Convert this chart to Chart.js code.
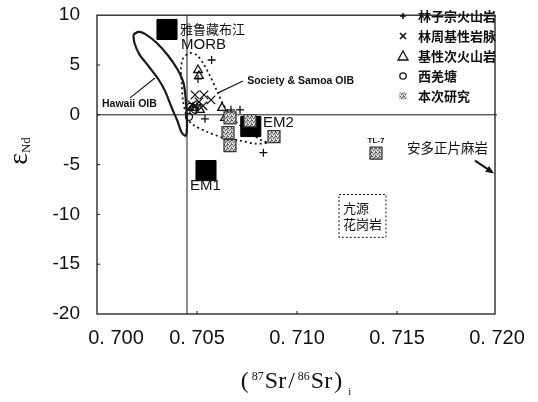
<!DOCTYPE html>
<html>
<head>
<meta charset="utf-8">
<script src="https://cdn.jsdelivr.net/npm/chart.js@4/dist/chart.umd.min.js"></script>
<style>
  html, body { margin: 0; padding: 0; background: #fff; }
  #wrap { width: 538px; height: 402px; }
</style>
</head>
<body>
<div id="wrap"><canvas id="c" width="538" height="402"></canvas></div>
<script>
// ---- axis ticks ----
const xTickValues = [0.700, 0.705, 0.710, 0.715, 0.720];
const yTickValues = [10, 5, 0, -5, -10, -15, -20];

// ---- sample groups: [87Sr/86Sr, eNd] ----
const linzizongVolcanics = [[0.70573, 5.5], [0.7054, -0.4], [0.70832, -3.8], [0.7067, 0.5], [0.70715, 0.5],
                            [0.70505, 3.6], [0.7048, 0.8], [0.7050, 1.0], [0.70465, 0.5]];
const linzhouDykes = [[0.7049, 2.0], [0.70535, 2.0], [0.7057, 1.5], [0.7051, 1.3], [0.70475, 1.0], [0.7053, 0.9]];
const subvolcanics = [[0.70505, 4.5], [0.7051, 3.9], [0.70625, 0.7], [0.7064, -0.3], [0.7048, 0.7], [0.70515, 0.5]];
const xiqiangtang = [[0.7046, -0.2], [0.70465, 0.8], [0.7049, 0.5]];
const thisStudy = [[0.70665, -0.3], [0.70765, -0.6], [0.70655, -1.8], [0.70665, -3.1], [0.70885, -2.2], [0.71395, -3.85]];
const endMembers = [[0.7035, 8.57], [0.70545, -5.6], [0.70769, -1.18]];

// ---- fields ----
const hawaiiOIB = [[0.70182, 8.07], [0.70207, 8.33], [0.7024, 8.13], [0.70298, 7.23], [0.70357, 5.9], [0.70402, 4.57],
                   [0.70432, 3.23], [0.70443, 1.73], [0.70448, 0.07], [0.7045, -1.27], [0.70443, -2.1], [0.70423, -1.77],
                   [0.70402, -0.6], [0.70373, 0.73], [0.7034, 2.4], [0.70307, 3.57], [0.70257, 4.9], [0.70212, 6.07],
                   [0.70187, 7.23], [0.70182, 8.07]];
const societySamoaOIB = [[0.7045, -0.4], [0.7043, 1.4], [0.70423, 3.4], [0.7042, 4.73], [0.70432, 5.73], [0.70465, 6.2],
                         [0.70498, 6.0], [0.7053, 5.2], [0.70565, 3.9], [0.706, 2.4], [0.70635, 0.9], [0.7069, -0.6],
                         [0.70765, -1.8], [0.70825, -2.6], [0.70855, -2.8], [0.7079, -2.9], [0.70715, -2.6],
                         [0.7063, -2.3], [0.7055, -1.7], [0.7048, -1.0], [0.7045, -0.4]];

// ---- reference lines ----
const bulkEarthSr = [[0.7045, -20], [0.7045, 10]];
const churNd = [[0.700, 0], [0.720, 0]];
const hawaiiLeader = [[0.70165, 1.7], [0.7029, 3.7]];
const societyLeader = [[0.7073, 3.4], [0.70605, 2.2]];

// ---- text labels ----
const legendLabels = ['林子宗火山岩', '林周基性岩脉', '基性次火山岩', '西羌塘', '本次研究'];
const endMemberLabels = ['MORB', 'EM1', 'EM2'];

const pts = arr => arr.map(([x, y]) => ({ x, y }));

const ctx0 = document.getElementById('c').getContext('2d');
// stippled gray fill for the analysed samples
function makeGrayPattern() {
  const c = document.createElement('canvas');
  c.width = 4; c.height = 4;
  const g = c.getContext('2d');
  g.fillStyle = '#c4c4c4'; g.fillRect(0, 0, 4, 4);
  g.fillStyle = '#5a5a5a';
  [[0, 0], [2, 1], [1, 2], [3, 3], [3, 0]].forEach(([x, y]) => g.fillRect(x, y, 1, 1));
  g.fillStyle = '#eeeeee';
  [[1, 0], [0, 3], [2, 3]].forEach(([x, y]) => g.fillRect(x, y, 1, 1));
  return ctx0.createPattern(c, 'repeat');
}
const grayFill = makeGrayPattern();

const lineDs = (data, extra) => Object.assign({
  data: pts(data), showLine: true, pointRadius: 0, borderColor: '#1a1a1a', borderWidth: 1,
  fill: false, order: 10
}, extra);

const datasets = [
  lineDs(bulkEarthSr, { borderWidth: 1 }),
  lineDs(churNd, { borderWidth: 1 }),
  lineDs(hawaiiOIB, { borderWidth: 2.2, tension: 0.3 }),
  lineDs(societySamoaOIB, { borderWidth: 1.8, borderDash: [2, 3], tension: 0.3 }),
  lineDs(hawaiiLeader, { borderWidth: 1.2 }),
  lineDs(societyLeader, { borderWidth: 1.2 }),
  { label: legendLabels[0], data: pts(linzizongVolcanics), pointStyle: 'cross', pointRadius: 4,
    borderColor: '#111', borderWidth: 1.3, order: 3 },
  { label: legendLabels[1], data: pts(linzhouDykes), pointStyle: 'crossRot', pointRadius: 6,
    borderColor: '#111', borderWidth: 1.3, order: 3 },
  { label: legendLabels[2], data: pts(subvolcanics), pointStyle: 'triangle', pointRadius: 5,
    borderColor: '#111', backgroundColor: 'rgba(255,255,255,0)', borderWidth: 1.3, order: 3 },
  { label: legendLabels[3], data: pts(xiqiangtang), pointStyle: 'circle', pointRadius: 3.5,
    borderColor: '#111', backgroundColor: 'rgba(255,255,255,0)', borderWidth: 1.3, order: 3 },
  { label: 'end members', data: pts(endMembers), pointStyle: 'rect', pointRadius: 14.2,
    borderColor: '#000', backgroundColor: '#000', borderWidth: 1, order: 2 },
  { label: legendLabels[4], data: pts(thisStudy), pointStyle: 'rect', pointRadius: 8.5,
    borderColor: '#333', backgroundColor: grayFill, borderWidth: 1.2, order: 1 }
];

const FONT_SANS = '"Liberation Sans", Arial, sans-serif';
const FONT_SERIF = '"Liberation Serif", "Times New Roman", serif';
const FONT_CJK = '"Noto Sans CJK SC", sans-serif';

const decorations = {
  id: 'decorations',
  afterDatasetsDraw(chart) {
    const { ctx, chartArea: a } = chart;
    const xs = chart.scales.x, ys = chart.scales.y;
    const px = v => xs.getPixelForValue(v), py = v => ys.getPixelForValue(v);
    ctx.save();

    // frame
    ctx.strokeStyle = '#1a1a1a';
    ctx.lineWidth = 1.3;
    ctx.strokeRect(a.left, a.top, a.right - a.left - 2, a.bottom - a.top);

    // inward tick marks
    ctx.lineWidth = 1;
    ctx.beginPath();
    yTickValues.slice(1, -1).forEach(v => { ctx.moveTo(a.left, py(v)); ctx.lineTo(a.left + 3, py(v)); });
    xTickValues.slice(1, -1).forEach(v => { ctx.moveTo(px(v), a.bottom); ctx.lineTo(px(v), a.bottom - 3); });
    ctx.stroke();

    // x tick labels
    ctx.fillStyle = '#111';
    ctx.font = '20px ' + FONT_SANS;
    ctx.textAlign = 'center';
    ctx.textBaseline = 'middle';
    xTickValues.forEach((v, i) => {
      const s = v.toFixed(3).replace('.', '. ');
      ctx.fillText(s, px(v) + (i === 0 ? 19 : 0), a.bottom + 24);
    });

    // x title: (87Sr/86Sr)i
    const parts = [
      ['(', 24, 0, 3], ['87', 12, -8, 1], ['Sr', 24, 0, 2], ['/', 24, 0, 3], ['86', 12, -8, 1],
      ['Sr', 24, 0, 2], [')', 24, 0, 6], ['i', 11, 7, 0]
    ];
    let total = 0;
    parts.forEach(p => { ctx.font = p[1] + 'px ' + FONT_SERIF; total += ctx.measureText(p[0]).width + p[3]; });
    let tx = (a.left + a.right) / 2 - total / 2 - 1;
    const ty = a.bottom + 74;
    ctx.textAlign = 'left';
    ctx.textBaseline = 'alphabetic';
    parts.forEach(p => {
      ctx.font = p[1] + 'px ' + FONT_SERIF;
      ctx.fillText(p[0], tx, ty + p[2]);
      tx += ctx.measureText(p[0]).width + p[3];
    });

    // y title: eNd rotated
    ctx.save();
    ctx.translate(22, 151);
    ctx.rotate(-Math.PI / 2);
    ctx.font = '28px ' + FONT_SERIF;
    const ew = ctx.measureText('ε').width;
    ctx.font = '13px ' + FONT_SERIF;
    const nw = ctx.measureText('Nd').width;
    let sx = -(ew + nw) / 2;
    ctx.font = '28px ' + FONT_SERIF;
    ctx.fillText('ε', sx, 5);
    ctx.font = '13px ' + FONT_SERIF;
    ctx.fillText('Nd', sx + ew, 8);
    ctx.restore();

    // legend
    const lx = 403, ltx = 418;
    const rows = [16, 36, 56, 76, 96];
    ctx.strokeStyle = '#111';
    ctx.lineWidth = 1.6;
    // plus
    ctx.beginPath();
    ctx.moveTo(lx - 3, rows[0]); ctx.lineTo(lx + 3, rows[0]);
    ctx.moveTo(lx, rows[0] - 3); ctx.lineTo(lx, rows[0] + 3);
    // cross
    ctx.moveTo(lx - 3, rows[1] - 3); ctx.lineTo(lx + 3, rows[1] + 3);
    ctx.moveTo(lx + 3, rows[1] - 3); ctx.lineTo(lx - 3, rows[1] + 3);
    ctx.stroke();
    ctx.lineWidth = 1.3;
    // triangle
    ctx.beginPath();
    ctx.moveTo(lx, rows[2] - 5); ctx.lineTo(lx + 5, rows[2] + 4); ctx.lineTo(lx - 5, rows[2] + 4); ctx.closePath();
    ctx.stroke();
    // circle
    ctx.beginPath();
    ctx.arc(lx, rows[3], 3.2, 0, Math.PI * 2);
    ctx.stroke();
    // square
    ctx.fillStyle = grayFill;
    ctx.fillRect(lx - 3.5, rows[4] - 3.5, 7, 7);
    ctx.fillStyle = '#111';
    ctx.font = 'bold 13px ' + FONT_CJK;
    ctx.textBaseline = 'middle';
    legendLabels.forEach((t, i) => ctx.fillText(t, ltx, rows[i]));

    // end-member labels
    ctx.font = '13px ' + FONT_CJK;
    ctx.fillText('雅鲁藏布江', px(0.70415), py(8.6));
    ctx.font = '15px ' + FONT_SANS;
    ctx.fillText(endMemberLabels[0], px(0.7042), py(7.0));
    ctx.fillText(endMemberLabels[2], px(0.7083), py(-0.8));
    ctx.textAlign = 'center';
    ctx.fillText(endMemberLabels[1], px(0.70542), py(-7.1));

    // field labels
    ctx.textAlign = 'left';
    ctx.font = 'bold 10.5px ' + FONT_SANS;
    ctx.fillText('Hawaii OIB', px(0.70025), py(1.1));
    ctx.fillText('Society & Samoa OIB', px(0.70751), py(3.4));

    // TL-7
    ctx.textAlign = 'center';
    ctx.font = 'bold 8px ' + FONT_SANS;
    ctx.fillText('TL-7', px(0.71395), py(-2.6));

    // orthogneiss label and arrow
    ctx.textAlign = 'left';
    ctx.font = '13.5px ' + FONT_CJK;
    ctx.fillText('安多正片麻岩', px(0.7155), py(-3.3));
    const ax0 = px(0.7189), ay0 = py(-4.6), ax1 = px(0.71985), ay1 = py(-5.9);
    ctx.lineWidth = 2;
    ctx.beginPath(); ctx.moveTo(ax0, ay0); ctx.lineTo(ax1 - 4, ay1 - 3); ctx.stroke();
    const ang = Math.atan2(ay1 - ay0, ax1 - ax0);
    ctx.beginPath();
    ctx.moveTo(ax1, ay1);
    ctx.lineTo(ax1 - 9 * Math.cos(ang - 0.4), ay1 - 9 * Math.sin(ang - 0.4));
    ctx.lineTo(ax1 - 9 * Math.cos(ang + 0.4), ay1 - 9 * Math.sin(ang + 0.4));
    ctx.closePath(); ctx.fill();

    // granite box
    ctx.lineWidth = 1;
    ctx.setLineDash([2, 2]);
    const bx0 = px(0.7121), by0 = py(-8.0), bx1 = px(0.71445), by1 = py(-12.3);
    ctx.strokeRect(bx0, by0, bx1 - bx0, by1 - by0);
    ctx.setLineDash([]);
    ctx.font = '13px ' + FONT_CJK;
    ctx.fillText('亢源', bx0 + 4, py(-9.4));
    ctx.fillText('花岗岩', bx0 + 4, py(-11.0));

    ctx.restore();
  }
};

new Chart(document.getElementById('c'), {
  type: 'scatter',
  data: { datasets },
  options: {
    responsive: false,
    animation: false,
    devicePixelRatio: 1,
    layout: { padding: { left: 0, right: 41, top: 14, bottom: 0 } },
    plugins: { legend: { display: false }, tooltip: { enabled: false } },
    scales: {
      x: {
        type: 'linear', min: 0.700, max: 0.720,
        afterBuildTicks: s => { s.ticks = xTickValues.map(v => ({ value: v })); },
        afterFit: s => { s.height = 88; s.paddingLeft = 0; s.paddingRight = 0; },
        ticks: { display: false },
        grid: { display: false },
        border: { display: false }
      },
      y: {
        type: 'linear', min: -20, max: 10,
        afterBuildTicks: s => { s.ticks = yTickValues.map(v => ({ value: v })); },
        afterFit: s => { s.width = 97; s.paddingTop = 0; s.paddingBottom = 0; },
        ticks: {
          padding: 17, color: '#111',
          font: { family: FONT_SANS, size: 19 },
          callback: v => String(v)
        },
        grid: { display: false, drawTicks: false },
        border: { display: false }
      }
    }
  },
  plugins: [decorations]
});
</script>
</body>
</html>
